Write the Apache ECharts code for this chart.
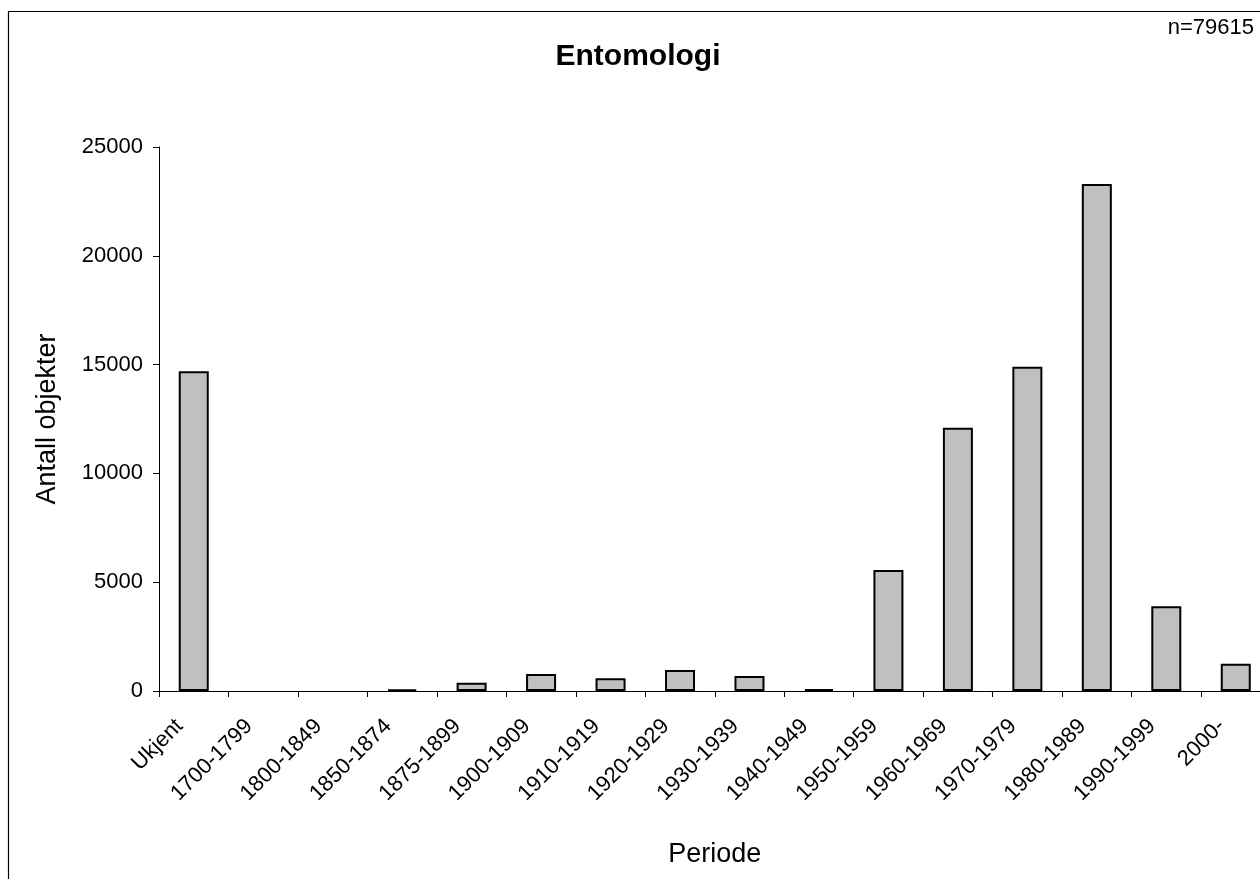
<!DOCTYPE html>
<html>
<head>
<meta charset="utf-8">
<title>Entomologi</title>
<script src="https://cdn.jsdelivr.net/npm/echarts@6/dist/echarts.min.js"></script>
<style>
  html, body { margin: 0; padding: 0; background: #ffffff; }
  #chart { width: 1260px; height: 879px; }
</style>
</head>
<body>
<div id="chart"></div>
<script>
// Period categories along the x axis
const periods = [
  'Ukjent', '1700-1799', '1800-1849', '1850-1874', '1875-1899',
  '1900-1909', '1910-1919', '1920-1929', '1930-1939', '1940-1949',
  '1950-1959', '1960-1969', '1970-1979', '1980-1989', '1990-1999', '2000-'
];

// Number of registered objects per period
const counts = [
  14700, 0, 0, 80, 380,
  780, 585, 965, 690, 90,
  5560, 12100, 14900, 23300, 3900, 1250
];

// Value axis ticks
const yTicks = [0, 5000, 10000, 15000, 20000, 25000];

const chartTitle = 'Entomologi';
const sampleNote = 'n=79615';
const xName = 'Periode';
const yName = 'Antall objekter';

const FONT = '"Liberation Sans", Arial, Helvetica, sans-serif';

const chart = echarts.init(document.getElementById('chart'), null, { renderer: 'canvas' });

// Empty periods get no outline so nothing is drawn for them
const barData = counts.map(v => v === 0
  ? { value: v, itemStyle: { borderWidth: 0 } }
  : v);

const option = {
  backgroundColor: '#ffffff',
  animation: false,
  textStyle: { fontFamily: FONT, color: '#000000' },
  grid: {
    left: 159,
    top: 147,
    width: 1111.5,
    height: 544,
    containLabel: false,
    outerBoundsMode: 'none'
  },
  graphic: [
    {
      type: 'rect',
      silent: true,
      z: -1,
      shape: { x: 8.5, y: 11.5, width: 1300, height: 1000 },
      style: { fill: 'none', stroke: '#000000', lineWidth: 1.2 }
    },
    {
      type: 'text',
      x: 638,
      y: 57,
      style: {
        text: chartTitle,
        font: 'bold 30px ' + FONT,
        fill: '#000000',
        textAlign: 'center',
        textVerticalAlign: 'middle'
      }
    },
    {
      type: 'text',
      x: 1254,
      y: 28,
      style: {
        text: sampleNote,
        font: '22px ' + FONT,
        fill: '#000000',
        textAlign: 'right',
        textVerticalAlign: 'middle'
      }
    }
  ],
  xAxis: {
    type: 'category',
    data: periods,
    name: xName,
    nameLocation: 'middle',
    nameGap: 150,
    nameMoveOverlap: false,
    nameTextStyle: { fontSize: 27, color: '#000000', fontFamily: FONT },
    axisLine: { show: true, lineStyle: { color: '#000000', width: 1 } },
    axisTick: { show: true, length: 6, lineStyle: { color: '#000000', width: 1 } },
    axisLabel: {
      rotate: 45,
      interval: 0,
      margin: 46,
      lineHeight: 40,
      verticalAlign: 'bottom',
      fontSize: 22,
      color: '#000000',
      fontFamily: FONT
    },
    splitLine: { show: false }
  },
  yAxis: {
    type: 'value',
    min: yTicks[0],
    max: yTicks[yTicks.length - 1],
    interval: yTicks[1] - yTicks[0],
    name: yName,
    nameLocation: 'middle',
    nameGap: 98,
    nameTextStyle: { fontSize: 27, color: '#000000', fontFamily: FONT },
    axisLine: { show: true, lineStyle: { color: '#000000', width: 1 } },
    axisTick: { show: true, length: 6, lineStyle: { color: '#000000', width: 1 } },
    axisLabel: {
      margin: 16,
      fontSize: 22,
      color: '#000000',
      fontFamily: FONT,
      formatter: v => String(v)
    },
    splitLine: { show: false }
  },
  series: [
    {
      type: 'bar',
      data: barData,
      barWidth: 30,
      itemStyle: {
        color: '#c0c0c0',
        borderColor: '#000000',
        borderWidth: 2
      }
    }
  ]
};

chart.setOption(option);
</script>
</body>
</html>
